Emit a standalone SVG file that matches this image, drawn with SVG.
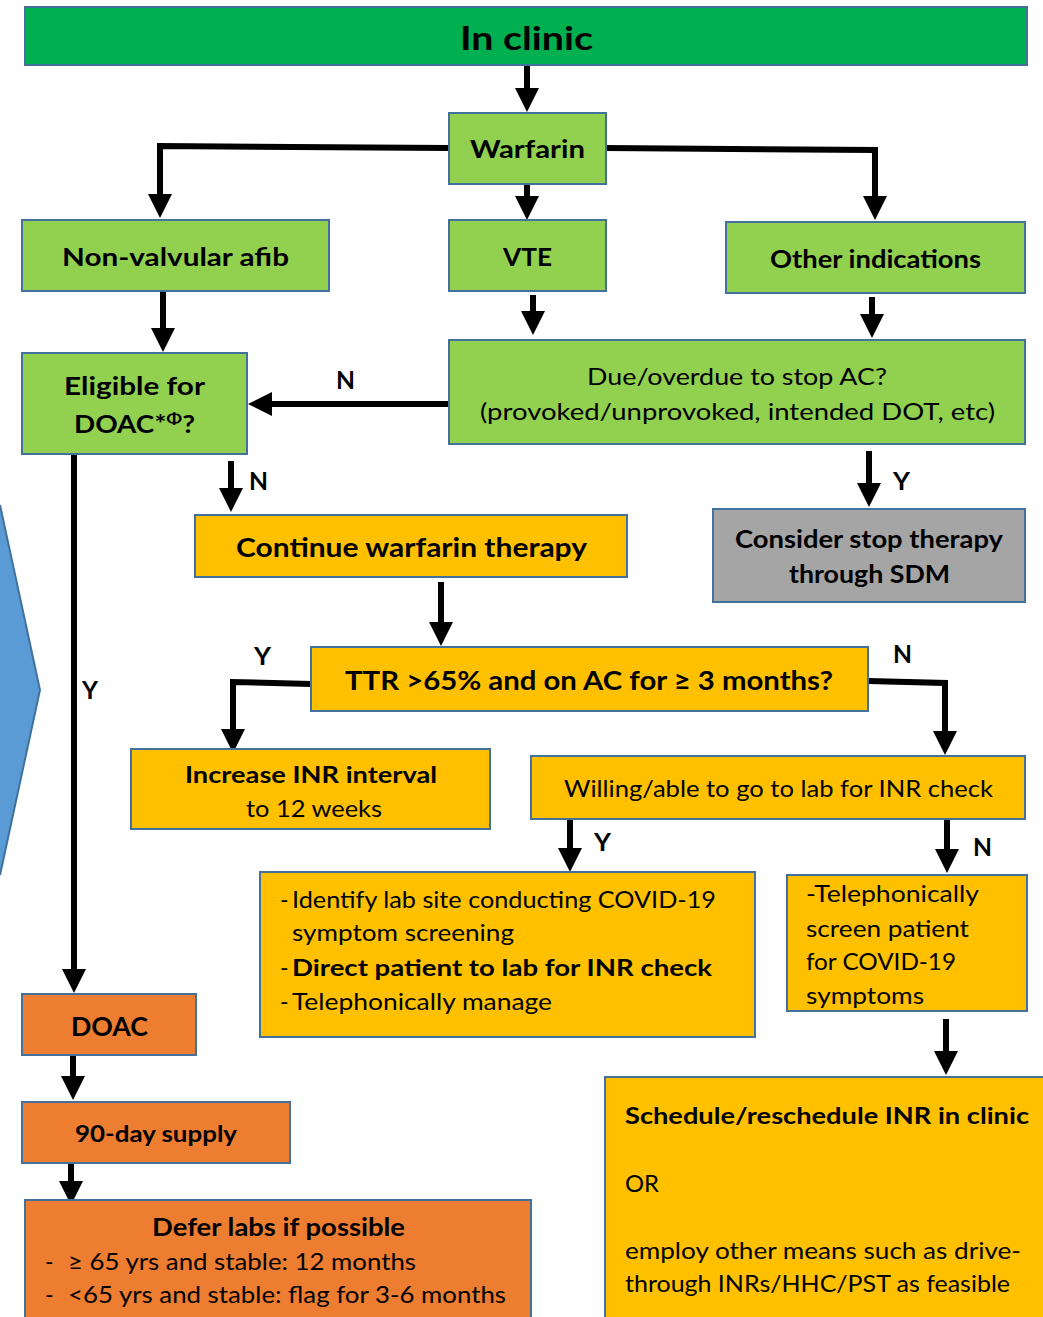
<svg xmlns="http://www.w3.org/2000/svg" width="1043" height="1317" viewBox="0 0 1043 1317">
<style>
.box{stroke:#41719C;stroke-width:2}
.g{fill:#00B050}.lg{fill:#92D050}.y{fill:#FFC000}.o{fill:#ED7D31}.gr{fill:#A5A5A5}
text{font-family:Lato,"Open Sans","Liberation Sans",sans-serif;fill:#000}
.b{font-weight:bold}
.c{text-anchor:middle}
.con{fill:none;stroke:#000;stroke-width:6;marker-end:url(#ah)}
</style>
<defs>
<marker id="ah" viewBox="0 0 10 10" markerWidth="4" markerHeight="4" refX="5" refY="5" orient="auto" markerUnits="strokeWidth">
<path d="M0,0 L10,5 L0,10 z" fill="#000"/>
</marker>
</defs>
<rect width="1043" height="1317" fill="#fff"/>

<g id="chevron">
<polygon points="-5,498 0,505 40,690 0,875 -5,882" fill="#5B9BD5"/>
<polyline points="0,505 40,690 0,875" fill="none" stroke="#41719C" stroke-width="2"/>
</g>

<g id="connectors">
<path class="con" d="M527,65 V100"/>
<path class="con" d="M449,148 L160,146 V206"/>
<path class="con" d="M606,148 L875,150 V208"/>
<path class="con" d="M527,184 V208"/>
<path class="con" d="M163,291 V340"/>
<path class="con" d="M533,295 V323"/>
<path class="con" d="M872,297 V326"/>
<path class="con" d="M449,404 H260"/>
<path class="con" d="M231,461 V500"/>
<path class="con" d="M869,451 V495"/>
<path class="con" d="M74,454 V981"/>
<path class="con" d="M441,582 V634"/>
<path class="con" d="M311,684 L233,682 V741"/>
<path class="con" d="M868,681 L945,683 V743"/>
<path class="con" d="M570,819 V860"/>
<path class="con" d="M947,819 V861"/>
<path class="con" d="M946,1019 V1063"/>
<path class="con" d="M73,1055 V1088"/>
<path class="con" d="M71,1163 V1193"/>
<g class="b" font-size="24">
<text x="336" y="389" textLength="19" lengthAdjust="spacingAndGlyphs">N</text>
<text x="249" y="490" textLength="19" lengthAdjust="spacingAndGlyphs">N</text>
<text x="893" y="490" textLength="17" lengthAdjust="spacingAndGlyphs">Y</text>
<text x="82" y="699" textLength="16" lengthAdjust="spacingAndGlyphs">Y</text>
<text x="254" y="665" textLength="17" lengthAdjust="spacingAndGlyphs">Y</text>
<text x="893" y="663" textLength="19" lengthAdjust="spacingAndGlyphs">N</text>
<text x="594" y="851" textLength="17" lengthAdjust="spacingAndGlyphs">Y</text>
<text x="973" y="856" textLength="19" lengthAdjust="spacingAndGlyphs">N</text>
</g>
</g>

<g id="in-clinic">
<rect class="box g" x="25" y="7" width="1002" height="58"/>
<text class="b" x="460" y="50" font-size="33" textLength="133" lengthAdjust="spacingAndGlyphs">In clinic</text>
</g>
<g id="warfarin">
<rect class="box lg" x="449" y="113" width="157" height="71"/>
<text class="b" x="470" y="158" font-size="24" textLength="115" lengthAdjust="spacingAndGlyphs">Warfarin</text>
</g>
<g id="nvaf">
<rect class="box lg" x="22" y="220" width="307" height="71"/>
<text class="b" x="62" y="266" font-size="24" textLength="227" lengthAdjust="spacingAndGlyphs">Non-valvular afib</text>
</g>
<g id="vte">
<rect class="box lg" x="449" y="220" width="157" height="71"/>
<text class="b" x="503" y="266" font-size="24" textLength="49" lengthAdjust="spacingAndGlyphs">VTE</text>
</g>
<g id="other">
<rect class="box lg" x="726" y="222" width="299" height="71"/>
<text class="b" x="770" y="268" font-size="24" textLength="211" lengthAdjust="spacingAndGlyphs">Other indications</text>
</g>
<g id="eligible">
<rect class="box lg" x="22" y="353" width="225" height="101"/>
<text class="b" x="64" y="395" font-size="24" textLength="141" lengthAdjust="spacingAndGlyphs">Eligible for</text>
<text class="b" x="74" y="433" font-size="24" textLength="121" lengthAdjust="spacingAndGlyphs">DOAC*<tspan font-size="16" dy="-9">Φ</tspan><tspan dy="9">?</tspan></text>
</g>
<g id="due">
<rect class="box lg" x="449" y="340" width="576" height="104"/>
<text x="587" y="385" font-size="23" textLength="300" lengthAdjust="spacingAndGlyphs">Due/overdue to stop AC?</text>
<text x="480" y="420" font-size="23" textLength="515" lengthAdjust="spacingAndGlyphs">(provoked/unprovoked, intended DOT, etc)</text>
</g>
<g id="continue">
<rect class="box y" x="195" y="515" width="432" height="62"/>
<text class="b" x="236" y="557" font-size="26" textLength="351" lengthAdjust="spacingAndGlyphs">Continue warfarin therapy</text>
</g>
<g id="consider">
<rect class="box gr" x="713" y="509" width="312" height="93"/>
<text class="b" x="735" y="548" font-size="24" textLength="268" lengthAdjust="spacingAndGlyphs">Consider stop therapy</text>
<text class="b" x="789" y="583" font-size="24" textLength="161" lengthAdjust="spacingAndGlyphs">through SDM</text>
</g>
<g id="ttr">
<rect class="box y" x="311" y="647" width="557" height="64"/>
<text class="b" x="345" y="690" font-size="26" textLength="488" lengthAdjust="spacingAndGlyphs">TTR &gt;65% and on AC for ≥ 3 months?</text>
</g>
<g id="increase">
<rect class="box y" x="131" y="749" width="359" height="80"/>
<text class="b" x="185" y="783" font-size="23" textLength="252" lengthAdjust="spacingAndGlyphs">Increase INR interval</text>
<text x="246" y="817" font-size="23" textLength="136" lengthAdjust="spacingAndGlyphs">to 12 weeks</text>
</g>
<g id="willing">
<rect class="box y" x="531" y="756" width="494" height="63"/>
<text x="564" y="797" font-size="23" textLength="429" lengthAdjust="spacingAndGlyphs">Willing/able to go to lab for INR check</text>
</g>
<g id="identify">
<rect class="box y" x="260" y="872" width="495" height="165"/>
<text x="280" y="908" font-size="23">-</text>
<text x="292" y="908" font-size="23" textLength="424" lengthAdjust="spacingAndGlyphs">Identify lab site conducting COVID-19</text>
<text x="292" y="941" font-size="23" textLength="222" lengthAdjust="spacingAndGlyphs">symptom screening</text>
<text x="280" y="976" font-size="23">-</text>
<text class="b" x="292" y="976" font-size="23" textLength="420" lengthAdjust="spacingAndGlyphs">Direct patient to  lab for INR check</text>
<text x="280" y="1010" font-size="23">-</text>
<text x="292" y="1010" font-size="23" textLength="260" lengthAdjust="spacingAndGlyphs">Telephonically manage</text>
</g>
<g id="telephonically">
<rect class="box y" x="787" y="875" width="240" height="136"/>
<text x="806" y="902" font-size="23" textLength="173" lengthAdjust="spacingAndGlyphs">-Telephonically</text>
<text x="806" y="937" font-size="23" textLength="163" lengthAdjust="spacingAndGlyphs">screen patient</text>
<text x="806" y="970" font-size="23" textLength="150" lengthAdjust="spacingAndGlyphs">for COVID-19</text>
<text x="806" y="1004" font-size="23" textLength="118" lengthAdjust="spacingAndGlyphs">symptoms</text>
</g>
<g id="doac">
<rect class="box o" x="22" y="994" width="174" height="61"/>
<text class="b" x="71" y="1036" font-size="26" textLength="77" lengthAdjust="spacingAndGlyphs">DOAC</text>
</g>
<g id="supply">
<rect class="box o" x="22" y="1102" width="268" height="61"/>
<text class="b" x="75" y="1142" font-size="23" textLength="162" lengthAdjust="spacingAndGlyphs">90-day supply</text>
</g>
<g id="defer">
<rect class="box o" x="25" y="1200" width="506" height="130"/>
<text class="b" x="152" y="1236" font-size="24" textLength="253" lengthAdjust="spacingAndGlyphs">Defer labs if possible</text>
<text x="45" y="1270" font-size="23">-</text>
<text x="68" y="1270" font-size="23" textLength="348" lengthAdjust="spacingAndGlyphs">≥ 65 yrs and stable: 12 months</text>
<text x="45" y="1303" font-size="23">-</text>
<text x="68" y="1303" font-size="23" textLength="438" lengthAdjust="spacingAndGlyphs">&lt;65 yrs and stable: flag for 3-6 months</text>
</g>
<g id="schedule">
<rect class="box y" x="605" y="1077" width="450" height="260"/>
<text class="b" x="625" y="1124" font-size="23" textLength="404" lengthAdjust="spacingAndGlyphs">Schedule/reschedule INR in clinic</text>
<text x="625" y="1192" font-size="23" textLength="34" lengthAdjust="spacingAndGlyphs">OR</text>
<text x="625" y="1259" font-size="23" textLength="396" lengthAdjust="spacingAndGlyphs">employ other means such as drive-</text>
<text x="625" y="1292" font-size="23" textLength="385" lengthAdjust="spacingAndGlyphs">through INRs/HHC/PST as feasible</text>
</g>
</svg>
